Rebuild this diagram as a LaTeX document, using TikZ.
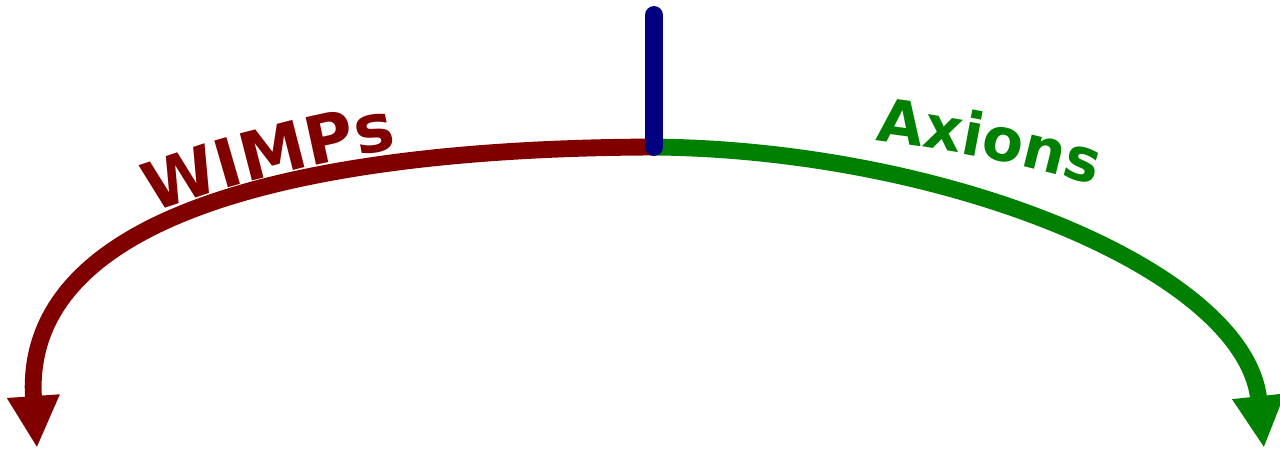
\documentclass[tikz,border=0pt]{standalone}
\usepackage{fontspec}
\setmainfont{DejaVu Sans}
\usetikzlibrary{arrows.meta,decorations.text}
\definecolor{wred}{HTML}{800000}
\definecolor{agreen}{HTML}{008000}
\definecolor{tnavy}{HTML}{000080}
\tikzset{
  branch/.style={line width=9.6pt, -{Triangle[width=0.98cm,length=1.04cm]}},
  arctext/.style={decorate, decoration={text along path, text align=center, text={#1}}},
}
\begin{document}
\begin{tikzpicture}[x=0.02cm,y=-0.02cm]
\useasboundingbox (0,0) rectangle (1280,451);
\coordinate (top) at (654,15);
\coordinate (mid) at (654,147);
\coordinate (lend) at (37,448);
\coordinate (rend) at (1264,448);
\draw[branch, wred] (mid) .. controls (330,148) and (20,205) .. (lend);
\draw[branch, agreen] (mid) .. controls (950,150) and (1245,272) .. (rend);
\draw[tnavy, line width=10.2pt, line cap=round] (top) -- (mid);
% text baselines
\coordinate (wa) at (150,214);
\coordinate (wb) at (400,148);
\coordinate (aa) at (870,140);
\coordinate (ab) at (1100,187);
\path[arctext={|\color{wred}\bfseries\fontsize{38}{38}\selectfont|WIMPs}]
   (wa) .. controls (230,184) and (320,162) .. (wb);
\path[arctext={|\color{agreen}\bfseries\fontsize{34}{34}\selectfont|Axions}]
   (aa) .. controls (947,149) and (1025,164) .. (ab);
\end{tikzpicture}
\end{document}
